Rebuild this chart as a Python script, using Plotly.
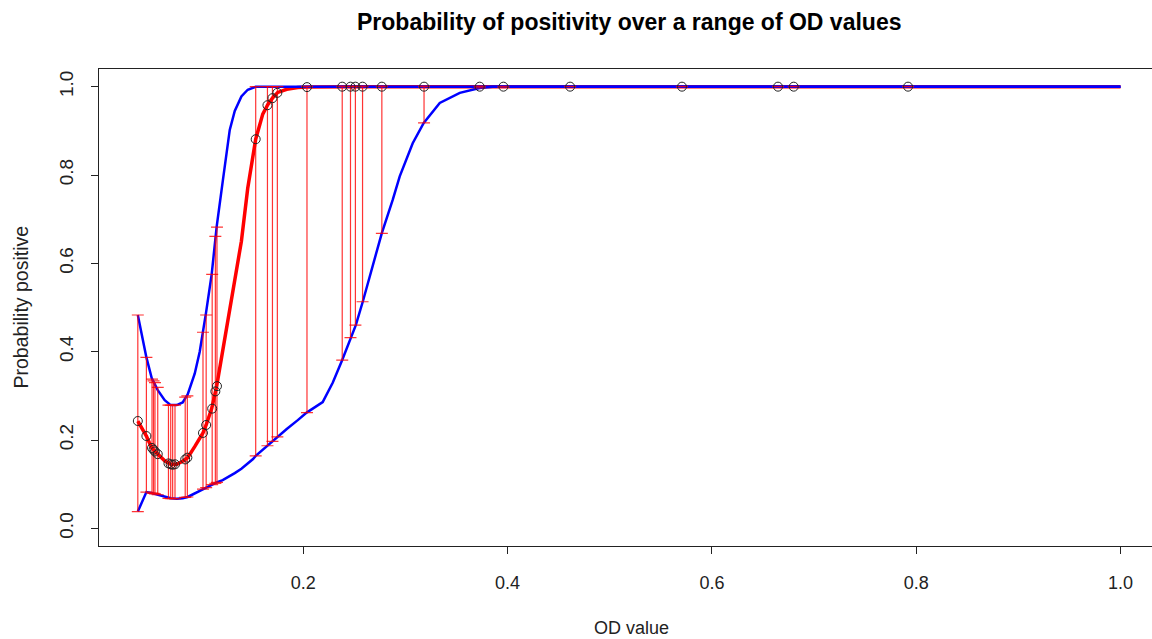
import plotly.graph_objects as go

# ---- data ----
# observed OD values with fitted probability and 95% CI
od_points = [0.038, 0.0464, 0.0519, 0.0534, 0.0548, 0.0575, 0.0680, 0.0702, 0.0721, 0.0744,
             0.0844, 0.0865, 0.1018, 0.1049, 0.1108, 0.1139, 0.1155, 0.1534, 0.1649, 0.1698,
             0.1746, 0.2036, 0.2381, 0.2462, 0.2510, 0.2580, 0.2769, 0.3182, 0.3727, 0.3959,
             0.4612, 0.5707, 0.6647, 0.6801, 0.7920]
fit_points = [0.243, 0.209, 0.182, 0.178, 0.174, 0.168, 0.147, 0.145, 0.144, 0.145,
              0.156, 0.160, 0.216, 0.234, 0.271, 0.310, 0.322, 0.881, 0.958, 0.974,
              0.986, 0.999, 1.0, 1.0, 1.0, 1.0, 1.0, 1.0, 1.0, 1.0,
              1.0, 1.0, 1.0, 1.0, 1.0]
lower_points = [0.038, 0.082, 0.080, 0.079, 0.078, 0.076, 0.068, 0.067, 0.067, 0.067,
                0.070, 0.071, 0.089, 0.092, 0.099, 0.102, 0.104, 0.164, 0.187, 0.197,
                0.207, 0.262, 0.381, 0.432, 0.460, 0.513, 0.668, 0.918, 0.997, 0.999,
                1.0, 1.0, 1.0, 1.0, 1.0]
upper_points = [0.483, 0.387, 0.338, 0.334, 0.330, 0.319, 0.279, 0.279, 0.279, 0.279,
                0.297, 0.300, 0.444, 0.483, 0.575, 0.661, 0.682, 1.0, 1.0, 1.0,
                1.0, 1.0, 1.0, 1.0, 1.0, 1.0, 1.0, 1.0, 1.0, 1.0,
                1.0, 1.0, 1.0, 1.0, 1.0]

# curves over the range of OD values
od_grid = [0.038, 0.0464, 0.0516, 0.0575, 0.0643, 0.0702, 0.0761, 0.0819, 0.0868, 0.0937,
           0.0986, 0.1018, 0.1049, 0.1103, 0.1152, 0.1211, 0.1280, 0.1329, 0.1394, 0.1456,
           0.1508, 0.1534, 0.1603, 0.1652, 0.1701, 0.1750, 0.1838, 0.1946, 0.2033, 0.2190,
           0.2289, 0.2381, 0.2465, 0.2514, 0.2582, 0.2670, 0.2768, 0.2876, 0.2944, 0.3071,
           0.3179, 0.3336, 0.3532, 0.3727, 0.3854, 0.4119, 1.0]
fit_grid = [0.243, 0.209, 0.182, 0.168, 0.153, 0.145, 0.145, 0.152, 0.160, 0.185,
            0.203, 0.216, 0.234, 0.271, 0.322, 0.400, 0.494, 0.562, 0.650, 0.770,
            0.850, 0.881, 0.938, 0.959, 0.975, 0.987, 0.994, 0.998, 0.999, 1.0,
            1.0, 1.0, 1.0, 1.0, 1.0, 1.0, 1.0, 1.0, 1.0, 1.0,
            1.0, 1.0, 1.0, 1.0, 1.0, 1.0, 1.0]
lower_grid = [0.038, 0.082, 0.080, 0.076, 0.071, 0.068, 0.067, 0.068, 0.071, 0.079,
              0.085, 0.089, 0.092, 0.099, 0.104, 0.109, 0.118, 0.125, 0.135, 0.146,
              0.157, 0.164, 0.178, 0.188, 0.197, 0.208, 0.225, 0.245, 0.262, 0.286,
              0.330, 0.381, 0.432, 0.460, 0.513, 0.585, 0.668, 0.744, 0.797, 0.872,
              0.918, 0.963, 0.986, 0.997, 1.0, 1.0, 1.0]
upper_grid = [0.483, 0.387, 0.340, 0.313, 0.290, 0.279, 0.279, 0.285, 0.303, 0.350,
              0.400, 0.444, 0.490, 0.575, 0.683, 0.785, 0.902, 0.945, 0.978, 0.993,
              0.998, 1.0, 1.0, 1.0, 1.0, 1.0, 1.0, 1.0, 1.0, 1.0,
              1.0, 1.0, 1.0, 1.0, 1.0, 1.0, 1.0, 1.0, 1.0, 1.0,
              1.0, 1.0, 1.0, 1.0, 1.0, 1.0, 1.0]

x_ticks = [0.2, 0.4, 0.6, 0.8, 1.0]
x_tick_labels = ["0.2", "0.4", "0.6", "0.8", "1.0"]
y_ticks = [0.0, 0.2, 0.4, 0.6, 0.8, 1.0]
y_tick_labels = ["0.0", "0.2", "0.4", "0.6", "0.8", "1.0"]

FONT = "Liberation Sans, Arial, sans-serif"

fig = go.Figure()

fig.add_trace(go.Scatter(x=od_grid, y=fit_grid, mode="lines",
                         line=dict(color="#ff0000", width=3.5), showlegend=False))
fig.add_trace(go.Scatter(x=od_grid, y=upper_grid, mode="lines",
                         line=dict(color="#0000ff", width=2.5), showlegend=False))
fig.add_trace(go.Scatter(x=od_grid, y=lower_grid, mode="lines",
                         line=dict(color="#0000ff", width=2.5), showlegend=False))

err_plus = [u - f for u, f in zip(upper_points, fit_points)]
err_minus = [f - l for f, l in zip(fit_points, lower_points)]
fig.add_trace(go.Scatter(
    x=od_points, y=fit_points, mode="markers",
    marker=dict(symbol="circle-open", size=9, color="#222222", line=dict(width=1)),
    error_y=dict(type="data", symmetric=False, array=err_plus, arrayminus=err_minus,
                 color="rgba(255,0,0,0.8)", thickness=1.2, width=6),
    showlegend=False))

# plot area spans pixels x 99..1152, y 69..546
L, R, T, B = 99, 0, 69, 93
W, H = 1152, 639
pw, ph = W - L - R, H - T - B

def px(x):
    return (x - L) / pw

def py(y):
    return (H - B - y) / ph

fig.update_layout(
    width=W, height=H,
    margin=dict(l=L, r=R, t=T, b=B, pad=0),
    paper_bgcolor="white", plot_bgcolor="white",
    font=dict(family=FONT, size=18, color="#222222"),
    xaxis=dict(range=[0.0, 0.0 + pw / 1021.5], tickvals=x_ticks, ticktext=x_tick_labels,
               showgrid=False, zeroline=False, showline=True, linecolor="#222222",
               linewidth=1, mirror=True, ticks="outside", ticklen=7, tickcolor="#222222",
               tickwidth=1, ticklabelstandoff=13, tickfont=dict(size=18)),
    yaxis=dict(range=[-0.04, 1.04], tickvals=y_ticks, ticktext=y_tick_labels,
               showgrid=False, zeroline=False, showline=True, linecolor="#222222",
               linewidth=1, mirror=False, ticks="outside", ticklen=7, tickcolor="#222222",
               tickwidth=1, tickangle=-90, ticklabelstandoff=10, tickfont=dict(size=19)),
    annotations=[
        dict(text="<b>Probability of positivity over a range of OD values</b>",
             xref="paper", yref="paper", x=px(629), y=py(22), xanchor="center",
             yanchor="middle", showarrow=False, font=dict(family=FONT, size=23, color="#000000")),
        dict(text="OD value", xref="paper", yref="paper", x=px(631), y=py(628),
             xanchor="center", yanchor="middle", showarrow=False,
             font=dict(family=FONT, size=18, color="#222222")),
        dict(text="Probability positive", xref="paper", yref="paper", x=px(20), y=py(307.5),
             xanchor="center", yanchor="middle", textangle=-90, showarrow=False,
             font=dict(family=FONT, size=19.5, color="#222222")),
    ],
)

fig.write_html("out.html")
